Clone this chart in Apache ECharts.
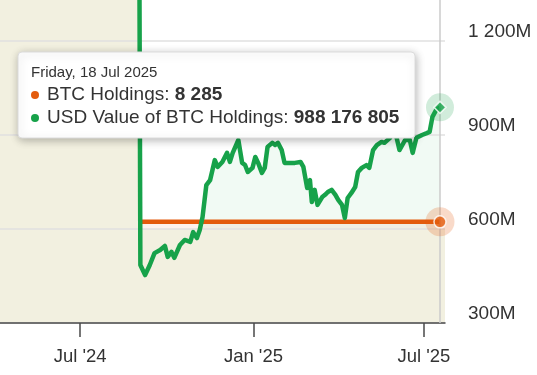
<!DOCTYPE html>
<html><head><meta charset="utf-8">
<script src="https://cdn.jsdelivr.net/npm/echarts@6/dist/echarts.min.js"></script>
<style>html,body{margin:0;padding:0;background:#fff}#c{width:537px;height:375px}</style>
</head><body><div id="c"></div>
<script>
// ---- data ----
const dates = ['2024-09-02','2024-09-03','2024-09-08','2024-09-13','2024-09-18','2024-09-24','2024-09-29','2024-10-02','2024-10-06','2024-10-09','2024-10-15','2024-10-20','2024-10-26','2024-10-29','2024-11-02','2024-11-05','2024-11-08','2024-11-12','2024-11-16','2024-11-21','2024-11-24','2024-11-29','2024-12-04','2024-12-07','2024-12-10','2024-12-16','2024-12-20','2024-12-23','2024-12-26','2024-12-31','2025-01-03','2025-01-06','2025-01-10','2025-01-13','2025-01-16','2025-01-21','2025-01-24','2025-01-27','2025-01-31','2025-02-03','2025-02-09','2025-02-14','2025-02-20','2025-02-23','2025-02-27','2025-03-02','2025-03-04','2025-03-07','2025-03-10','2025-03-15','2025-03-18','2025-03-21','2025-03-25','2025-03-29','2025-04-01','2025-04-05','2025-04-08','2025-04-11','2025-04-15','2025-04-19','2025-04-22','2025-04-26','2025-05-01','2025-05-04','2025-05-08','2025-05-12','2025-05-17','2025-05-20','2025-05-26','2025-05-29','2025-06-02','2025-06-05','2025-06-11','2025-06-16','2025-06-19','2025-06-23','2025-06-29','2025-07-04','2025-07-07','2025-07-10','2025-07-14','2025-07-18'];
const usdValue = [1400e6,485e6,453e6,485e6,523e6,533e6,546e6,511e6,527e6,508e6,549e6,565e6,559e6,590e6,571e6,597e6,638e6,740e6,756e6,820e6,798e6,814e6,843e6,814e6,843e6,884e6,811e6,805e6,782e6,795e6,830e6,811e6,779e6,795e6,862e6,875e6,868e6,875e6,852e6,811e6,811e6,811e6,814e6,798e6,731e6,756e6,686e6,725e6,677e6,702e6,709e6,718e6,725e6,709e6,693e6,677e6,635e6,699e6,715e6,734e6,782e6,795e6,804e6,795e6,852e6,868e6,878e6,875e6,891e6,916e6,891e6,852e6,884e6,884e6,843e6,891e6,900e6,906e6,910e6,958e6,980e6,988176805];
const holdingsDates = ['2024-09-03','2025-07-18'];
const holdings = [8285, 8285];
const xTickDates = ['2024-07-01','2025-01-01','2025-07-01'];
const xTickLabels = ["Jul '24","Jan '25","Jul '25"];
const xMinDate = '2024-04-07', xMaxDate = '2025-07-23';
const bandEnd = '2024-09-03';
const bandLow = 300e6, bandHigh = 600e6;
const yMin = 300e6, yMax = 1500e6, yStep = 300e6;

// ---- helpers ----
const FONT = "'Liberation Sans', Arial, Helvetica, sans-serif";
const GREEN = '#17a24a', ORANGE = '#e35b0d', BEIGE = '#f2f0e0';
const fmt = n => Math.round(n).toString().replace(/\B(?=(\d{3})+(?!\d))/g, ' ');
const parseLocal = s => { const [y,m,d] = s.split('-').map(Number); return new Date(y, m-1, d); };
const ts = s => +parseLocal(s);
const xTickValues = xTickDates.map(ts);
const MONTHS = ['Jan','Feb','Mar','Apr','May','Jun','Jul','Aug','Sep','Oct','Nov','Dec'];
const DAYS = ['Sunday','Monday','Tuesday','Wednesday','Thursday','Friday','Saturday'];

const greenData = dates.map((d,i) => [ts(d), usdValue[i]]);
const orangeData = holdingsDates.map((d,i) => [ts(d), holdings[i]]);
const lastDate = dates[dates.length-1], lastUsd = usdValue[usdValue.length-1];
const lastHDate = holdingsDates[holdingsDates.length-1], lastH = holdings[holdings.length-1];
const ld = parseLocal(lastDate);
const header = `${DAYS[ld.getDay()]}, ${ld.getDate()} ${MONTHS[ld.getMonth()]} ${ld.getFullYear()}`;

const chart = echarts.init(document.getElementById('c'), null, {renderer:'canvas'});
chart.setOption({
  animation: false,
  backgroundColor: '#fff',
  grid: {left: 0, right: 92, top: -53, bottom: 52, outerBoundsMode: 'none', containLabel: false},
  xAxis: {
    type: 'value', min: ts(xMinDate), max: ts(xMaxDate) + 8 * 3600e3, z: 1.5,
    axisLine: {show: true, lineStyle: {color: '#4a4a4a', width: 1.5}},
    axisTick: {show: true, customValues: xTickValues, length: 14, lineStyle: {color: '#4a4a4a', width: 1.5}},
    axisLabel: {customValues: xTickValues, fontSize: 18.5, color: '#333', margin: 24, fontFamily: FONT,
      formatter: v => { let best = 0; xTickValues.forEach((t,i) => { if (Math.abs(t - v) < Math.abs(xTickValues[best] - v)) best = i; }); return xTickLabels[best]; }},
    splitLine: {show: false}
  },
  yAxis: [{
    type: 'value', position: 'right', min: yMin, max: yMax, interval: yStep, z: 1.5,
    axisLine: {show: false}, axisTick: {show: false},
    splitLine: {show: true, lineStyle: {color: '#e0e0e0', width: 1.5}},
    axisLabel: {margin: 23, fontSize: 19, color: '#333', verticalAlign: 'bottom', fontFamily: FONT,
      formatter: v => fmt(v / 1e6) + 'M'}
  }, {
    type: 'value', min: 0, max: 30800, show: false, splitLine: {show: false}
  }],
  series: [{
    // area fills (below the plot bands)
    type: 'line', yAxisIndex: 0, data: greenData, symbol: 'none', z: 1, silent: true,
    lineStyle: {width: 0, opacity: 0}, areaStyle: {color: GREEN, opacity: 0.06}
  }, {
    type: 'line', yAxisIndex: 1, data: orangeData, symbol: 'none', z: 1, silent: true,
    lineStyle: {width: 0, opacity: 0}, areaStyle: {color: ORANGE, opacity: 0.07}
  }, {
    type: 'line', data: [], silent: true, z: 1.2,
    markArea: {silent: true, z: 1.2, itemStyle: {color: BEIGE},
      data: [[{xAxis: ts(xMinDate)}, {xAxis: ts(bandEnd)}], [{yAxis: bandLow}, {yAxis: bandHigh}]]}
  }, {
    name: 'BTC Holdings', type: 'line', yAxisIndex: 1, data: orangeData, symbol: 'none', z: 2,
    lineStyle: {color: ORANGE, width: 4.5}
  }, {
    name: 'USD Value of BTC Holdings', type: 'line', yAxisIndex: 0, data: greenData, symbol: 'none', z: 3,
    lineStyle: {color: GREEN, width: 4.5, join: 'round'},
    markLine: {silent: true, symbol: ['none','none'], label: {show: false}, animation: false,
      lineStyle: {color: '#cbcbcb', width: 1.5, type: 'solid'}, data: [{xAxis: ts(lastDate)}]}
  }, {
    type: 'scatter', yAxisIndex: 1, data: [[ts(lastHDate), lastH]], symbol: 'circle', symbolSize: 29, z: 6, silent: true,
    itemStyle: {color: 'rgba(227,91,13,0.28)'}
  }, {
    type: 'scatter', yAxisIndex: 1, data: [[ts(lastHDate), lastH]], symbol: 'circle', symbolSize: 12, z: 7, silent: true,
    itemStyle: {color: ORANGE, borderColor: '#fff', borderWidth: 1.5}
  }, {
    type: 'scatter', yAxisIndex: 0, data: [[ts(lastDate), lastUsd]], symbol: 'circle', symbolSize: 28, z: 6, silent: true,
    itemStyle: {color: 'rgba(23,162,74,0.25)'}
  }, {
    type: 'scatter', yAxisIndex: 0, data: [[ts(lastDate), lastUsd]], symbol: 'diamond', symbolSize: 12, z: 7, silent: true,
    itemStyle: {color: GREEN, borderColor: '#fff', borderWidth: 1.5}
  }],
  graphic: [
    {type: 'rect', z: 100, shape: {x: 18, y: 52, width: 397, height: 86, r: 4},
      style: {fill: '#fff', stroke: '#dcdcdc', lineWidth: 1, shadowBlur: 8, shadowColor: 'rgba(0,0,0,0.28)', shadowOffsetX: 1, shadowOffsetY: 2}},
    {type: 'text', z: 101, x: 31, y: 73, style: {text: header, fontSize: 15, fontFamily: FONT, fill: '#333', verticalAlign: 'middle'}},
    {type: 'circle', z: 101, shape: {cx: 35, cy: 95, r: 4}, style: {fill: ORANGE}},
    {type: 'text', z: 101, x: 47, y: 95, style: {text: '{n|BTC Holdings: }{b|' + fmt(lastH) + '}', verticalAlign: 'middle', fontFamily: FONT, fontSize: 19, fill: '#333',
      rich: {n: {fontSize: 19, fontFamily: FONT, fill: '#333'}, b: {fontSize: 19, fontFamily: FONT, fill: '#333', fontWeight: 'bold'}}}},
    {type: 'circle', z: 101, shape: {cx: 35, cy: 118, r: 4}, style: {fill: GREEN}},
    {type: 'text', z: 101, x: 47, y: 118, style: {text: '{n|USD Value of BTC Holdings: }{b|' + fmt(lastUsd) + '}', verticalAlign: 'middle', fontFamily: FONT, fontSize: 19, fill: '#333',
      rich: {n: {fontSize: 19, fontFamily: FONT, fill: '#333'}, b: {fontSize: 19, fontFamily: FONT, fill: '#333', fontWeight: 'bold'}}}}
  ]
});
</script></body></html>
